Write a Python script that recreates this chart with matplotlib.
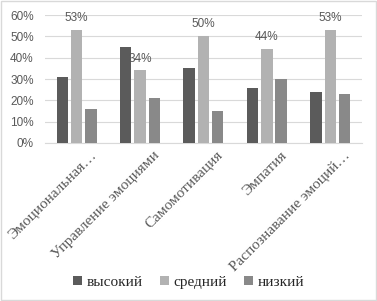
import matplotlib
matplotlib.use("Agg")
import matplotlib.pyplot as plt
import matplotlib.transforms as mtransforms
import numpy as np

categories = ["Эмоциональная…", "Управление эмоциями", "Самомотивация",
              "Эмпатия", "Распознавание эмоций…"]
series_names = ["высокий", "средний", "низкий"]
high = [31, 45, 35, 26, 24]
medium = [53, 34, 50, 44, 53]
low = [16, 21, 15, 30, 23]
colors = ["#5b5b5b", "#b2b2b2", "#898989"]

fig = plt.figure(figsize=(3.77, 3.01), dpi=100)
ax = fig.add_axes([0.119, 0.525, 0.841, 0.425])

x = np.arange(len(categories))
w = 0.18
gap = 0.045
for i, (vals, c, name) in enumerate(zip([high, medium, low], colors, series_names)):
    pos = x + (i - 1) * (w + gap)
    bars = ax.bar(pos, vals, width=w, color=c, label=name, zorder=3)
    if name == "средний":
        for b, v in zip(bars, vals):
            ax.text(b.get_x() + b.get_width() / 2, v + 2.8, f"{v}%",
                    ha="center", va="bottom", fontsize=8.5, color="#595959",
                    family="Liberation Sans", zorder=4)

ax.set_ylim(0, 60)
ax.set_xlim(-0.5, len(categories) - 0.5)
ax.set_yticks(range(0, 61, 10))
ax.set_yticklabels([f"{v}%" for v in range(0, 61, 10)],
                   fontsize=8.5, color="#595959", family="Liberation Sans")
ax.grid(axis="y", color="#d9d9d9", lw=0.8, zorder=0)
ax.tick_params(axis="y", length=0, pad=8)
ax.tick_params(axis="x", length=0, pad=4)
for s in ["top", "right", "left"]:
    ax.spines[s].set_visible(False)
ax.spines["bottom"].set_color("#d9d9d9")

ax.set_xticks(x)
ax.set_xticklabels(categories, rotation=45, ha="right", va="top",
                   rotation_mode="anchor",
                   fontsize=11, color="#595959", family="Liberation Serif")
shift = mtransforms.ScaledTranslation(0.13, 0, fig.dpi_scale_trans)
for lbl in ax.get_xticklabels():
    lbl.set_transform(lbl.get_transform() + shift)

fig.legend(loc="lower center", bbox_to_anchor=(0.5, -0.005), ncol=3, frameon=False,
           prop={"family": "Liberation Serif", "size": 11},
           handlelength=0.6, handleheight=0.6, handletextpad=0.3,
           columnspacing=1.1, labelcolor="#262626")

fig.patches.append(plt.Rectangle((0.002, 0.002), 0.996, 0.996, transform=fig.transFigure,
                                 fill=False, edgecolor="#d9d9d9", lw=1))

fig.savefig("out.png", dpi=100)
